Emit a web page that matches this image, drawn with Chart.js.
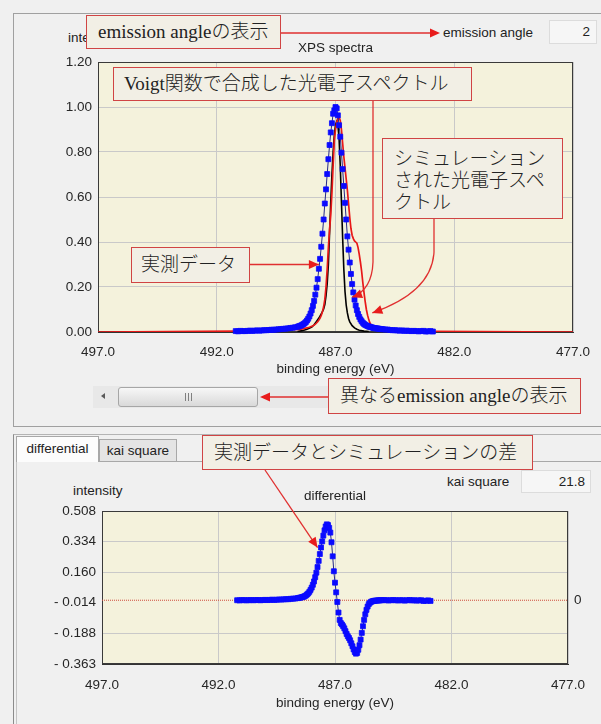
<!DOCTYPE html>
<html>
<head>
<meta charset="utf-8">
<script src="https://cdn.jsdelivr.net/npm/chart.js@4/dist/chart.umd.min.js"></script>
<style>
html,body{margin:0;padding:0}
body{width:601px;height:724px;overflow:hidden;position:relative;background:#f0f0f0;
  font-family:"Liberation Sans",Arial,sans-serif;font-size:13.5px;color:#222}
.abs{position:absolute}
.lbl{position:absolute;white-space:nowrap;line-height:16px}
.ctr{position:absolute;white-space:nowrap;line-height:16px;transform:translateX(-50%);z-index:2}
.callout{position:absolute;box-sizing:border-box;border:1.5px solid #d04444;background:#f2efe5;
  font-family:"Liberation Serif","Noto Sans CJK JP",serif;font-size:19px;line-height:22px;color:#222;
  font-weight:300;white-space:nowrap;z-index:5;display:flex;align-items:center}
.field{position:absolute;box-sizing:border-box;border:1px solid #dcdcdc;background:#f6f6f6;text-align:right;
  padding-right:6px}
</style>
</head>
<body>

<!-- upper panel -->
<div class="abs" style="left:13px;top:13px;width:640px;height:412px;border:1px solid #a0a0a0"></div>
<div class="lbl" style="left:68px;top:30px">intensity</div>
<div class="lbl" style="left:443px;top:25px">emission angle</div>
<div class="field" style="left:549px;top:20px;width:48px;height:24px;line-height:22px">2</div>
<div class="ctr" style="left:335.5px;top:40px">XPS spectra</div>

<div class="abs" style="left:20px;top:35px;width:631px;height:342px;z-index:1">
  <canvas id="spectra" width="631" height="342"></canvas>
</div>

<!-- scroll bar -->
<div class="abs" style="left:93px;top:386px;width:480px;height:22px;background:#e8e8e8"></div>
<div class="abs" style="left:101px;top:393px;width:0;height:0;border-right:4px solid #5a5a5a;border-top:3.5px solid transparent;border-bottom:3.5px solid transparent"></div>
<div class="abs" style="left:118px;top:387px;width:140px;height:20px;box-sizing:border-box;border:1px solid #a6a6a6;border-radius:3px;background:linear-gradient(#f7f7f7,#d9d9d9)"></div>
<div class="abs" style="left:185px;top:393px;width:1px;height:8px;background:#808080"></div>
<div class="abs" style="left:188px;top:393px;width:1px;height:8px;background:#808080"></div>
<div class="abs" style="left:191px;top:393px;width:1px;height:8px;background:#808080"></div>

<!-- lower panel -->
<div class="abs" style="left:13px;top:434px;width:640px;height:300px;border-top:1px solid #b4b4b4;border-left:1px solid #8c8c8c"></div>
<div class="abs" style="left:16px;top:461px;width:640px;height:300px;border-top:1px solid #a8a8a8;border-left:1px solid #c4c4c4"></div>
<div class="abs" style="left:99px;top:439px;width:78px;height:22px;box-sizing:border-box;border:1px solid #a8a8a8;border-bottom:none;background:#e4e4e4;text-align:center;line-height:21px">kai square</div>
<div class="abs" style="left:16px;top:436px;width:83px;height:26px;box-sizing:border-box;border:1px solid #a8a8a8;border-bottom:none;background:#fcfcfc;text-align:center;line-height:24px">differential</div>

<div class="lbl" style="left:447px;top:474px">kai square</div>
<div class="field" style="left:521px;top:470px;width:70px;height:23px;line-height:21px;padding-right:5px">21.8</div>
<div class="lbl" style="left:73px;top:483px">intensity</div>
<div class="ctr" style="left:335px;top:488px">differential</div>

<div class="abs" style="left:20px;top:485px;width:630px;height:226px;z-index:1">
  <canvas id="difference" width="630" height="226"></canvas>
</div>

<!-- callouts -->
<div class="callout" style="left:86px;top:15px;width:195px;height:34px;padding-left:11px">emission angleの表示</div>
<div class="callout" style="left:113px;top:67px;width:359px;height:34px;padding-left:10px">Voigt関数で合成した光電子スペクトル</div>
<div class="callout" style="left:382px;top:138px;width:181px;height:81px;padding:9px 0 0 11px;align-items:flex-start">シミュレーション<br>された光電子スペ<br>クトル</div>
<div class="callout" style="left:131px;top:247px;width:119px;height:36px;padding-left:9px">実測データ</div>
<div class="callout" style="left:328px;top:378px;width:253px;height:36px;padding-left:11px">異なるemission angleの表示</div>
<div class="callout" style="left:202px;top:435px;width:331px;height:35px;padding-left:11px">実測データとシミュレーションの差</div>

<svg id="arrows" class="abs" style="left:0;top:0;z-index:6" width="601" height="724"></svg>

<script>
// binding energies of the measured spectrum (eV)
const energy = [
  491.2, 491.1, 491.0, 490.9, 490.8, 490.7, 490.6, 490.5, 490.4, 490.3,
  490.2, 490.1, 490.0, 489.9, 489.8, 489.7, 489.6, 489.5, 489.4, 489.3,
  489.2, 489.1, 489.0, 488.9, 488.8, 488.7, 488.6,
  488.55, 488.5, 488.45, 488.4, 488.35, 488.3, 488.25, 488.2, 488.15, 488.1,
  488.05, 488.0, 487.95, 487.9, 487.85, 487.8, 487.75, 487.7, 487.65, 487.6,
  487.55, 487.5, 487.45, 487.4, 487.35, 487.3, 487.25, 487.2, 487.15, 487.1,
  487.05, 487.0, 486.95, 486.9, 486.85, 486.8, 486.75, 486.7, 486.65, 486.6,
  486.55, 486.5, 486.45, 486.4, 486.35, 486.3, 486.25, 486.2, 486.15, 486.1,
  486.05, 486.0, 485.95, 485.9, 485.85, 485.8, 485.75, 485.7, 485.65, 485.6,
  485.55, 485.5, 485.45, 485.4, 485.35, 485.3, 485.25, 485.2, 485.15, 485.1, 485.05,
  485.0, 484.9, 484.8, 484.7, 484.6, 484.5, 484.4, 484.3, 484.2, 484.1,
  484.0, 483.9, 483.8, 483.7, 483.6, 483.5, 483.4, 483.3, 483.2, 483.1, 483.0, 482.9
];

// measured intensity (normalised)
const measured = [
  0.004, 0.003, 0.005, 0.004, 0.004, 0.005, 0.006, 0.005, 0.006, 0.007,
  0.006, 0.007, 0.008, 0.008, 0.009, 0.010, 0.010, 0.011, 0.012, 0.013,
  0.014, 0.015, 0.016, 0.018, 0.019, 0.021, 0.023,
  0.025, 0.027, 0.029, 0.032, 0.035, 0.039, 0.044, 0.051, 0.059, 0.069,
  0.082, 0.097, 0.116, 0.138, 0.166, 0.197, 0.235, 0.281, 0.325, 0.379,
  0.437, 0.500, 0.571, 0.634, 0.702, 0.768, 0.831, 0.887, 0.928, 0.970,
  0.985, 1.000, 0.994, 0.963, 0.919, 0.868, 0.797, 0.724, 0.649, 0.574,
  0.500, 0.425, 0.366, 0.309, 0.258, 0.213, 0.176, 0.144, 0.118, 0.097,
  0.080, 0.067, 0.056, 0.048, 0.041, 0.036, 0.032, 0.029, 0.027, 0.024,
  0.023, 0.021, 0.020, 0.018, 0.017, 0.016, 0.016, 0.015, 0.014, 0.013, 0.013,
  0.012, 0.011, 0.011, 0.009, 0.008, 0.008, 0.007, 0.006, 0.007, 0.005,
  0.006, 0.005, 0.004, 0.005, 0.004, 0.003, 0.004, 0.005, 0.002, 0.003, 0.004, 0.002
];

// measured minus simulated
const differential = [
  0.000, -0.001, 0.001, 0.000, 0.000, 0.000, 0.001, 0.000, 0.001, 0.001,
  0.000, 0.001, 0.002, 0.001, 0.002, 0.003, 0.002, 0.003, 0.004, 0.004,
  0.005, 0.006, 0.006, 0.008, 0.009, 0.010, 0.012,
  0.013, 0.015, 0.016, 0.018, 0.020, 0.023, 0.027, 0.033, 0.039, 0.048,
  0.059, 0.072, 0.088, 0.107, 0.131, 0.157, 0.189, 0.224, 0.263, 0.300,
  0.335, 0.368, 0.398, 0.420, 0.432, 0.428, 0.412, 0.385, 0.330, 0.250,
  0.165, 0.100, 0.045, -0.010, -0.070, -0.112, -0.130, -0.138, -0.148, -0.160,
  -0.176, -0.192, -0.205, -0.215, -0.228, -0.245, -0.262, -0.280, -0.295, -0.304,
  -0.300, -0.282, -0.256, -0.224, -0.186, -0.148, -0.112, -0.080, -0.055, -0.036,
  -0.022, -0.014, -0.009, -0.006, -0.004, -0.003, -0.002, -0.002, -0.001, -0.001, 0.000,
  0.000, 0.001, 0.000, -0.001, 0.000, 0.001, 0.000, -0.001, 0.000, 0.000,
  -0.002, 0.000, 0.001, -0.001, 0.000, -0.002, -0.001, 0.000, -0.004, -0.003, -0.001, -0.004
];

// simulated photoelectron spectrum
const simEnergy = [
  497.0, 491.2, 490.6, 490.0, 489.4, 489.0, 488.6,
  488.55, 488.5, 488.45, 488.4, 488.35, 488.3, 488.25, 488.2, 488.15, 488.1,
  488.05, 488.0, 487.95, 487.9, 487.85, 487.8, 487.75, 487.7, 487.65, 487.6,
  487.55, 487.5, 487.45, 487.4, 487.35, 487.3, 487.25, 487.2, 487.15, 487.1,
  487.05, 487.0, 486.95, 486.9, 486.85, 486.8, 486.75, 486.7, 486.65, 486.6,
  486.55, 486.5, 486.45, 486.4, 486.35, 486.3, 486.25, 486.2, 486.15, 486.1,
  486.05, 486.0, 485.95, 485.9, 485.85, 485.8, 485.75, 485.7, 485.65, 485.6,
  485.55, 485.5, 485.45, 485.4, 485.35, 485.3, 485.25, 485.2, 485.15, 485.1, 485.05,
  485.0, 484.6, 484.0, 483.4, 482.9, 477.0
];
const simulated = [
  0.000, 0.004, 0.005, 0.006, 0.008, 0.010, 0.011,
  0.012, 0.012, 0.013, 0.014, 0.015, 0.016, 0.017, 0.018, 0.020, 0.021,
  0.023, 0.025, 0.028, 0.031, 0.035, 0.040, 0.046, 0.053, 0.062, 0.074,
  0.090, 0.112, 0.145, 0.200, 0.280, 0.375, 0.455, 0.520, 0.620, 0.740,
  0.850, 0.900, 0.930, 0.950, 0.955, 0.940, 0.900, 0.840, 0.780, 0.730,
  0.680, 0.630, 0.570, 0.510, 0.460, 0.430, 0.415, 0.405, 0.400, 0.395,
  0.375, 0.345, 0.310, 0.270, 0.220, 0.175, 0.135, 0.100, 0.075, 0.055,
  0.040, 0.031, 0.026, 0.022, 0.020, 0.018, 0.017, 0.016, 0.015, 0.014, 0.013,
  0.012, 0.009, 0.006, 0.004, 0.003, 0.000
];

// spectrum synthesised from Voigt functions
const voigtEnergy = [
  488.6, 488.4, 488.2, 488.0, 487.9, 487.8, 487.7, 487.6, 487.5, 487.45,
  487.4, 487.35, 487.3, 487.25, 487.2, 487.15, 487.1, 487.05, 487.0, 486.95,
  486.9, 486.85, 486.8, 486.75, 486.7, 486.65, 486.6, 486.55, 486.5, 486.45,
  486.4, 486.3, 486.2, 486.1, 486.0, 485.8, 485.6
];
const voigt = [
  0.002, 0.006, 0.012, 0.022, 0.032, 0.047, 0.062, 0.080, 0.102, 0.122,
  0.160, 0.215, 0.300, 0.440, 0.580, 0.700, 0.800, 0.875, 0.920, 0.935,
  0.920, 0.860, 0.740, 0.580, 0.420, 0.280, 0.180, 0.120, 0.085, 0.060,
  0.045, 0.028, 0.018, 0.012, 0.008, 0.004, 0.002
];

// axis ticks
const energyTicks = [497, 492, 487, 482, 477];
const spectraTicks = [0, 0.2, 0.4, 0.6, 0.8, 1.0, 1.2];
const diffTicks = [-0.363, -0.188, -0.014, 0.160, 0.334, 0.508];

const pairs = (xs, ys) => xs.map((x, i) => ({ x: x, y: ys[i] }));

Chart.defaults.font.family = '"Liberation Sans", Arial, sans-serif';
Chart.defaults.font.size = 13.5;
Chart.defaults.color = '#262626';

// plot background and frame
const plotFrame = {
  id: 'plotFrame',
  beforeDraw(chart, args, opts) {
    const a = chart.chartArea, ctx = chart.ctx;
    ctx.save();
    ctx.fillStyle = opts.fill;
    ctx.fillRect(a.left, a.top, a.right - a.left, a.bottom - a.top);
    ctx.restore();
  },
  beforeDatasetsDraw(chart, args, opts) {
    const a = chart.chartArea, ctx = chart.ctx;
    ctx.save();
    ctx.strokeStyle = opts.stroke;
    ctx.lineWidth = 1;
    ctx.strokeRect(Math.round(a.left) + 0.5, Math.round(a.top) + 0.5,
      Math.round(a.right - a.left) - 1, Math.round(a.bottom - a.top) - 1);
    ctx.restore();
  }
};

// "0" marker to the right of the zero line
const zeroLabel = {
  id: 'zeroLabel',
  afterDraw(chart, args, opts) {
    if (!opts.show) return;
    const ctx = chart.ctx, y = chart.scales.y.getPixelForValue(0);
    ctx.save();
    ctx.font = '13.5px "Liberation Sans", Arial, sans-serif';
    ctx.fillStyle = '#262626';
    ctx.textAlign = 'left';
    ctx.textBaseline = 'middle';
    ctx.fillText('0', chart.chartArea.right + 6, y);
    ctx.restore();
  }
};

function energyAxis(height, pad) {
  return {
    type: 'linear', reverse: true, min: 477, max: 497,
    afterBuildTicks: s => { s.ticks = energyTicks.map(v => ({ value: v })); },
    afterFit: s => { s.height = height; },
    ticks: { padding: pad, maxRotation: 0, autoSkip: false, callback: v => Number(v).toFixed(1) },
    grid: { color: '#c9c9c9', drawTicks: false },
    border: { display: true, color: '#333333' },
    title: { display: true, text: 'binding energy (eV)', padding: 0, color: '#262626' }
  };
}

const measuredStyle = {
  borderColor: '#24288a', borderWidth: 1,
  pointStyle: 'rect', pointRadius: 3.5,
  pointBackgroundColor: '#0a0aff', pointBorderColor: '#0a0aff', pointBorderWidth: 0.8,
  clip: false, tension: 0
};

const spectraChart = new Chart(document.getElementById('spectra'), {
  type: 'line',
  data: {
    datasets: [
      Object.assign({ label: 'measured', data: pairs(energy, measured) }, measuredStyle),
      { label: 'simulated', data: pairs(simEnergy, simulated), borderColor: '#e81818', borderWidth: 1.7, pointRadius: 0, tension: 0 },
      { label: 'Voigt', data: pairs(voigtEnergy, voigt), borderColor: '#000000', borderWidth: 1.6, pointRadius: 0, tension: 0 }
    ]
  },
  options: {
    responsive: false, animation: false, devicePixelRatio: 1, events: [],
    layout: { padding: { left: 0, right: 78, top: 27, bottom: 0 } },
    scales: {
      x: energyAxis(45, 12),
      y: {
        min: 0, max: 1.2,
        afterBuildTicks: s => { s.ticks = spectraTicks.map(v => ({ value: v })); },
        afterFit: s => { s.width = 78; },
        ticks: { padding: 6, callback: v => Number(v).toFixed(2) },
        grid: { color: '#c9c9c9', drawTicks: false },
        border: { display: true, color: '#333333' }
      }
    },
    plugins: {
      legend: { display: false },
      tooltip: { enabled: false },
      title: { display: false },
      plotFrame: { fill: '#f4f2dc', stroke: '#3a3a3a' },
      zeroLabel: { show: false }
    }
  },
  plugins: [plotFrame, zeroLabel]
});

const diffChart = new Chart(document.getElementById('difference'), {
  type: 'line',
  data: {
    datasets: [
      Object.assign({ label: 'differential', data: pairs(energy, differential) }, measuredStyle),
      { label: 'zero', data: [{ x: 497, y: 0 }, { x: 477, y: 0 }], borderColor: '#cf4a3a', borderWidth: 1, borderDash: [1, 1], pointRadius: 0 }
    ]
  },
  options: {
    responsive: false, animation: false, devicePixelRatio: 1, events: [],
    layout: { padding: { left: 0, right: 82, top: 26, bottom: 0 } },
    scales: {
      x: energyAxis(47, 13),
      y: {
        min: -0.363, max: 0.508,
        afterBuildTicks: s => { s.ticks = diffTicks.map(v => ({ value: v })); },
        afterFit: s => { s.width = 82; },
        ticks: { padding: 6, callback: v => (v < 0 ? '- ' + Math.abs(v).toFixed(3) : Number(v).toFixed(3)) },
        grid: {
          drawTicks: false,
          color: c => (c.tick && c.tick.value === -0.014 ? 'rgba(0,0,0,0)' : '#c9c9c9')
        },
        border: { display: true, color: '#333333' }
      }
    },
    plugins: {
      legend: { display: false },
      tooltip: { enabled: false },
      title: { display: false },
      plotFrame: { fill: '#f4f2dc', stroke: '#3a3a3a' },
      zeroLabel: { show: true }
    }
  },
  plugins: [plotFrame, zeroLabel]
});

// callout connectors
const NS = 'http://www.w3.org/2000/svg';
const svg = document.getElementById('arrows');
function connector(d, tip, from) {
  const p = document.createElementNS(NS, 'path');
  p.setAttribute('d', d);
  p.setAttribute('fill', 'none');
  p.setAttribute('stroke', '#e03030');
  p.setAttribute('stroke-width', '1.3');
  svg.appendChild(p);
  const dx = tip[0] - from[0], dy = tip[1] - from[1], L = Math.hypot(dx, dy);
  const ux = dx / L, uy = dy / L, len = 10, hw = 4.5;
  const bx = tip[0] - ux * len, by = tip[1] - uy * len;
  const head = document.createElementNS(NS, 'polygon');
  head.setAttribute('points', [tip, [bx - uy * hw, by + ux * hw], [bx + uy * hw, by - ux * hw]].map(q => q.join(',')).join(' '));
  head.setAttribute('fill', '#e81c1c');
  svg.appendChild(head);
}
const topPt = (e, v) => [spectraChart.scales.x.getPixelForValue(e) + 20, spectraChart.scales.y.getPixelForValue(v) + 35];
const botPt = (e, v) => [diffChart.scales.x.getPixelForValue(e) + 20, diffChart.scales.y.getPixelForValue(v) + 485];

connector('M281,33 L438,33', [440, 33], [281, 33]);
connector('M328,397 L262,397', [260, 397], [328, 397]);

const tMeasured = topPt(487.7, 0.30);
connector(`M250,${tMeasured[1]} L${tMeasured[0]},${tMeasured[1]}`, tMeasured, [250, tMeasured[1]]);

const tVoigt = topPt(486.3, 0.155);
connector(`M373,101 L373,262 Q372,290 ${tVoigt[0]},${tVoigt[1]}`, tVoigt, [372, 290]);

const tSim = topPt(485.45, 0.085);
connector(`M434,219 L434,252 Q432,292 ${tSim[0]},${tSim[1]}`, tSim, [432, 292]);

const tDiff = botPt(487.75, 0.30);
connector(`M265,470 L${tDiff[0]},${tDiff[1]}`, tDiff, [265, 470]);
</script>
</body>
</html>
